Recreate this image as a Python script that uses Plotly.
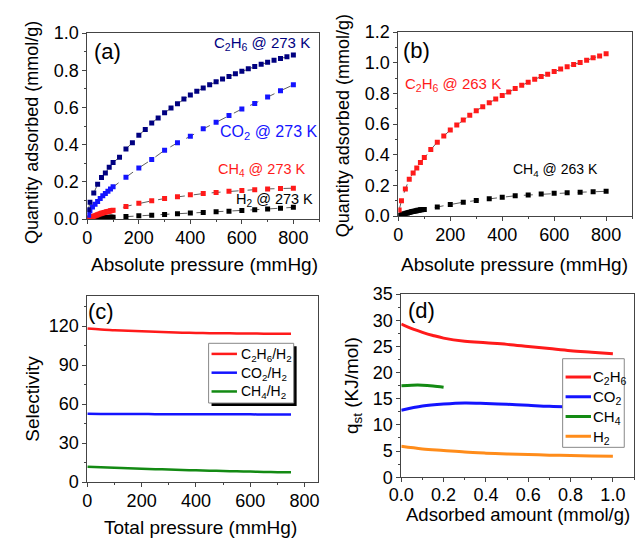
import plotly.graph_objects as go

W, H = 637, 545

# ---------------- Panel (a): isotherms at 273 K ----------------
p_a_c2h6 = [4, 10, 25, 40, 55, 70, 85, 100, 125, 150, 175, 200, 225, 250, 275, 300, 325, 350,
            375, 400, 425, 450, 475, 500, 525, 550, 575, 600, 625, 650, 675, 700, 725, 750, 775, 800]
q_a_c2h6 = [0.05, 0.09, 0.14, 0.187, 0.223, 0.247, 0.278, 0.304, 0.333, 0.377, 0.411, 0.451, 0.482,
            0.517, 0.544, 0.572, 0.597, 0.62, 0.645, 0.667, 0.687, 0.705, 0.722, 0.738, 0.753, 0.767,
            0.781, 0.795, 0.808, 0.82, 0.832, 0.843, 0.854, 0.864, 0.873, 0.882]

p_a_co2 = [5, 10, 20, 30, 40, 50, 60, 70, 80, 90, 100, 150, 200, 250, 300, 350, 400, 450, 500,
           550, 600, 650, 700, 750, 800]
q_a_co2 = [0.02, 0.045, 0.065, 0.08, 0.095, 0.11, 0.125, 0.138, 0.15, 0.162, 0.173, 0.225, 0.275,
           0.32, 0.37, 0.41, 0.445, 0.485, 0.52, 0.557, 0.592, 0.622, 0.657, 0.69, 0.722]

p_a_ch4 = [5, 10, 15, 20, 25, 30, 35, 40, 45, 50, 55, 60, 65, 70, 75, 80, 85, 90, 95, 100, 150, 200,
           250, 300, 350, 400, 450, 500, 550, 600, 650, 700, 750, 800]
q_a_ch4 = [0.005, 0.008, 0.0105, 0.013, 0.0155, 0.018, 0.0205, 0.023, 0.0255, 0.028, 0.0305, 0.033,
           0.035, 0.037, 0.039, 0.041, 0.0425, 0.044, 0.0455, 0.047, 0.068, 0.085, 0.098, 0.11,
           0.12, 0.13, 0.137, 0.143, 0.149, 0.154, 0.158, 0.162, 0.164, 0.166]

p_a_h2 = [5, 10, 15, 20, 25, 30, 35, 40, 45, 50, 55, 60, 65, 70, 75, 80, 85, 90, 95, 100, 150, 200,
          250, 300, 350, 400, 450, 500, 550, 600, 650, 700, 750, 800]
q_a_h2 = [0.001, 0.0015, 0.002, 0.0025, 0.003, 0.0035, 0.004, 0.0045, 0.005, 0.0055, 0.006, 0.0065,
          0.007, 0.0075, 0.008, 0.0085, 0.009, 0.0093, 0.0097, 0.01, 0.014, 0.018, 0.021, 0.025,
          0.028, 0.032, 0.035, 0.039, 0.042, 0.046, 0.05, 0.054, 0.058, 0.063]

# ---------------- Panel (b): isotherms at 263 K ----------------
p_b_c2h6 = [3, 12, 27, 42, 57, 71, 85, 100, 125, 150, 175, 200, 225, 250, 275, 300, 325, 350, 375,
            400, 425, 450, 475, 500, 525, 550, 575, 600, 625, 650, 675, 700, 725, 750, 775, 800]
q_b_c2h6 = [0.04, 0.1, 0.177, 0.24, 0.282, 0.314, 0.35, 0.383, 0.435, 0.482, 0.523, 0.562, 0.594,
            0.627, 0.658, 0.688, 0.713, 0.74, 0.764, 0.787, 0.81, 0.833, 0.853, 0.873, 0.893, 0.911,
            0.926, 0.943, 0.96, 0.975, 0.989, 1.002, 1.017, 1.033, 1.044, 1.06]

p_b_ch4 = [5, 10, 15, 20, 25, 30, 35, 40, 45, 50, 55, 60, 65, 70, 75, 80, 85, 90, 95, 100, 150, 200,
           250, 300, 350, 400, 450, 500, 550, 600, 650, 700, 750, 800]
q_b_ch4 = [0.005, 0.008, 0.011, 0.014, 0.016, 0.019, 0.021, 0.024, 0.026, 0.028, 0.03, 0.032, 0.034,
           0.036, 0.038, 0.039, 0.041, 0.042, 0.043, 0.044, 0.06, 0.076, 0.091, 0.102, 0.114, 0.123,
           0.133, 0.138, 0.144, 0.149, 0.153, 0.156, 0.159, 0.162]

# ---------------- Panel (c): selectivity ----------------
p_c = [0, 50, 100, 150, 200, 250, 300, 350, 400, 450, 500, 550, 600, 650, 700, 750]
s_c2h6 = [118.0, 117.3, 116.8, 116.3, 115.9, 115.5, 115.2, 114.9, 114.7, 114.5, 114.4, 114.3,
          114.2, 114.1, 114.05, 114.0]
s_co2 = [52.5, 52.4, 52.35, 52.3, 52.25, 52.2, 52.2, 52.15, 52.1, 52.1, 52.1, 52.05, 52.05, 52.0,
         52.0, 52.0]
s_ch4 = [11.8, 11.4, 10.9, 10.55, 10.2, 9.9, 9.6, 9.3, 9.0, 8.75, 8.5, 8.25, 8.0, 7.8, 7.6, 7.5]
legend_c = ["C<sub>2</sub>H<sub>6</sub>/H<sub>2</sub>", "CO<sub>2</sub>/H<sub>2</sub>",
            "CH<sub>4</sub>/H<sub>2</sub>"]

# ---------------- Panel (d): isosteric heat ----------------
n_c2h6 = [0, 0.05, 0.1, 0.15, 0.2, 0.3, 0.4, 0.5, 0.6, 0.7, 0.8, 0.9, 1.0]
h_c2h6 = [29.3, 28.4, 27.7, 27.1, 26.6, 26.0, 25.7, 25.4, 25.0, 24.6, 24.2, 23.9, 23.6]
n_co2 = [0, 0.1, 0.2, 0.3, 0.4, 0.5, 0.6, 0.7, 0.8, 0.9, 1.0]
h_co2 = [12.8, 13.6, 14.0, 14.2, 14.1, 13.95, 13.75, 13.55, 13.45, 13.4, 13.35]
n_ch4 = [0, 0.05, 0.1, 0.15, 0.2]
h_ch4 = [17.5, 17.6, 17.6, 17.45, 17.2]
n_h2 = [0, 0.1, 0.2, 0.3, 0.4, 0.5, 0.6, 0.7, 0.8, 0.9, 1.0]
h_h2 = [5.9, 5.4, 5.1, 4.8, 4.6, 4.45, 4.33, 4.22, 4.13, 4.06, 4.0]
legend_d = ["C<sub>2</sub>H<sub>6</sub>", "CO<sub>2</sub>", "CH<sub>4</sub>", "H<sub>2</sub>"]

FONT = "Liberation Sans, Arial, sans-serif"
NAVY, BLUE, RED, GREEN, ORANGE = "#000080", "#1414ff", "#ff1a1a", "#138a13", "#ff8c1a"

fig = go.Figure()


def iso(x, y, color, xa, ya):
    fig.add_trace(go.Scatter(
        x=x, y=y, mode="lines+markers", xaxis=xa, yaxis=ya, showlegend=False,
        line=dict(color="#333333", width=0.8, dash="dash"),
        marker=dict(symbol="square", size=5, color=color, line=dict(width=0)),
    ))


iso(p_a_h2, q_a_h2, "#000000", "x", "y")
iso(p_a_ch4, q_a_ch4, RED, "x", "y")
iso(p_a_co2, q_a_co2, BLUE, "x", "y")
iso(p_a_c2h6, q_a_c2h6, NAVY, "x", "y")
iso(p_b_ch4, q_b_ch4, "#000000", "x2", "y2")
iso(p_b_c2h6, q_b_c2h6, RED, "x2", "y2")


def curve(x, y, color, name, xa, ya, w):
    fig.add_trace(go.Scatter(
        x=x, y=y, mode="lines", name=name, xaxis=xa, yaxis=ya, showlegend=False,
        line=dict(color=color, width=w, shape="spline"),
    ))


curve(p_c, s_c2h6, RED, legend_c[0], "x3", "y3", 2.5)
curve(p_c, s_co2, BLUE, legend_c[1], "x3", "y3", 2.5)
curve(p_c, s_ch4, GREEN, legend_c[2], "x3", "y3", 2.5)

curve(n_c2h6, h_c2h6, RED, legend_d[0], "x4", "y4", 3)
curve(n_co2, h_co2, BLUE, legend_d[1], "x4", "y4", 3)
curve(n_ch4, h_ch4, GREEN, legend_d[2], "x4", "y4", 3)
curve(n_h2, h_h2, ORANGE, legend_d[3], "x4", "y4", 3)


def px(v):
    return v / W


def py(v):
    return 1 - v / H


def axis(domain, rng, dtick, fmt, minor_dtick, anchor, standoff=0):
    return dict(
        domain=domain, range=rng, dtick=dtick, tick0=0, tickformat=fmt, anchor=anchor,
        showline=True, mirror=True, linecolor="#444444", linewidth=1,
        ticks="outside", ticklen=4, tickcolor="#444444", showgrid=False, zeroline=False,
        ticklabelstandoff=standoff,
        tickfont=dict(size=18, color="#000000", family=FONT),
        minor=dict(ticks="outside", ticklen=2, dtick=minor_dtick, tickcolor="#444444", showgrid=False),
    )


fig.update_layout(
    width=W, height=H, margin=dict(l=0, r=0, t=0, b=0),
    paper_bgcolor="white", plot_bgcolor="white",
    font=dict(family=FONT, color="#000000"), showlegend=False,
    xaxis=axis([px(76), px(313)], [0, 900], 200, "d", 100, "y", -2),
    yaxis=axis([py(217), py(24)], [0, 1.0], 0.2, ".1f", 0.1, "x"),
    xaxis2=axis([px(394), px(633)], [0, 900], 200, "d", 100, "y2", -2),
    yaxis2=axis([py(214), py(23)], [0, 1.2], 0.2, ".1f", 0.1, "x2"),
    xaxis3=axis([px(76), px(312)], [0, 850], 200, "d", 100, "y3", -2),
    yaxis3=axis([py(490), py(297)], [0, 143], 30, "d", 15, "x3"),
    xaxis4=axis([px(397), px(635)], [0, 1.1], 0.2, ".1f", 0.1, "y4", -3),
    yaxis4=axis([py(485), py(295)], [0, 35], 5, "d", 2.5, "x4"),
)


def rect(x0, y0, x1, y1, fill, line_color=None):
    fig.add_shape(type="rect", xref="paper", yref="paper", layer="above",
                  x0=px(x0), x1=px(x1), y0=py(y1), y1=py(y0), fillcolor=fill,
                  line=dict(width=1 if line_color else 0, color=line_color or fill))


def text(x, y, s, size=19, color="#000000", angle=0, anchor="center"):
    fig.add_annotation(x=px(x), y=py(y), xref="paper", yref="paper", text=s, showarrow=False,
                       font=dict(size=size, color=color, family=FONT), textangle=angle,
                       xanchor=anchor, yanchor="middle")


# legend (c): shadow + box + entries
rect(203, 349, 290, 411, "#000000")
rect(200, 346, 287, 408, "#ffffff", "#888888")
for i, (name, col) in enumerate(zip(legend_c, [RED, BLUE, GREEN])):
    yy = 357 + i * 19.5
    fig.add_shape(type="line", xref="paper", yref="paper", layer="above",
                  x0=px(203), x1=px(229), y0=py(yy), y1=py(yy), line=dict(color=col, width=2.5))
    text(231, yy + 1, name, size=14, anchor="left")

# legend (d)
rect(562, 362, 625, 454, "#ffffff", "#888888")
for i, (name, col) in enumerate(zip(legend_d, [RED, BLUE, GREEN, ORANGE])):
    yy = 381 + i * 20.5
    fig.add_shape(type="line", xref="paper", yref="paper", layer="above",
                  x0=px(565), x1=px(591), y0=py(yy), y1=py(yy), line=dict(color=col, width=3))
    text(591, yy + 1, name, size=15, anchor="left")

# axis titles
text(196, 264, "Absolute pressure (mmHg)", size=19)
text(20, 127, "Quantity adsorbed (mmol/g)", size=18, angle=-90)
text(513, 264, "Absolute pressure (mmHg)", size=19)
text(337, 120, "Quantity adsorbed (mmol/g)", size=18, angle=-90)
text(192, 537, "Total pressure (mmHg)", size=19)
text(20, 404, "Selectivity", size=19, angle=-90)
text(516, 524, "Adsorbed amount (mmol/g)", size=18.5)
text(347, 390, "q<sub>st</sub> (KJ/mol)", size=19, angle=-90)

# panel letters
text(97, 43, "(a)", size=22)
text(413, 42, "(b)", size=22)
text(90, 313, "(c)", size=22)
text(418, 312, "(d)", size=22)

# series labels
text(255, 35, "C<sub>2</sub>H<sub>6</sub> @ 273 K", size=15, color=NAVY)
text(262, 127, "CO<sub>2</sub> @ 273 K", size=16, color=BLUE)
text(255, 166, "CH<sub>4</sub> @ 273 K", size=14.5, color=RED)
text(267, 197, "H<sub>2</sub> @ 273 K", size=14.5, color="#000000")
text(450, 77, "C<sub>2</sub>H<sub>6</sub> @ 263 K", size=15, color=RED)
text(555, 166, "CH<sub>4</sub> @ 263 K", size=14, color="#000000")

fig.write_html("out.html", config={"displayModeBar": False},
               post_script="document.body.style.margin='0px';document.body.style.overflow='hidden';")
